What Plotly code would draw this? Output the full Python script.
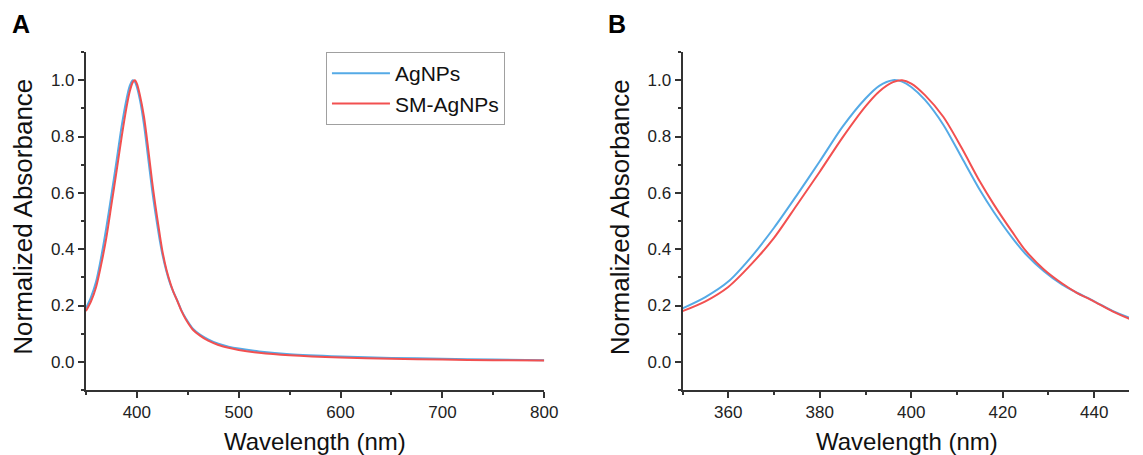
# UV-Vis spectra of AgNPs and SM-AgNPs: full range (A) and zoom on the peak (B)

import plotly.graph_objects as go

# Wavelength grid (nm)
wavelength = [350, 355, 360, 365, 370, 375, 380, 385, 390, 393, 396, 398, 400, 403,
              407, 411, 415, 418, 422, 425, 429, 433, 436, 440, 444, 448, 455, 462,
              470, 480, 490, 500, 520, 550, 600, 650, 700, 750, 800]

# Normalized absorbance, AgNPs
agnps = [0.190, 0.230, 0.285, 0.372, 0.476, 0.592, 0.712, 0.835, 0.935, 0.980, 1.000,
         0.995, 0.976, 0.930, 0.842, 0.726, 0.610, 0.533, 0.442, 0.383, 0.322, 0.274,
         0.247, 0.215, 0.181, 0.155, 0.118, 0.097, 0.080, 0.064, 0.054, 0.047, 0.037,
         0.027, 0.019, 0.014, 0.011, 0.008, 0.006]

# Normalized absorbance, SM-AgNPs
sm_agnps = [0.180, 0.215, 0.266, 0.346, 0.440, 0.557, 0.675, 0.797, 0.907, 0.960, 0.993,
            1.000, 0.988, 0.947, 0.870, 0.760, 0.640, 0.560, 0.463, 0.395, 0.328, 0.278,
            0.247, 0.214, 0.179, 0.151, 0.114, 0.093, 0.075, 0.060, 0.050, 0.042, 0.032,
            0.023, 0.015, 0.011, 0.008, 0.006, 0.005]

blue = "#55AAE6"
red = "#F25050"
font_family = "Arial, Liberation Sans, sans-serif"
axis_color = "#333333"

fig = go.Figure()

# Panel A
fig.add_trace(go.Scatter(x=wavelength, y=agnps, name="AgNPs", mode="lines",
                         line=dict(color=blue, width=2, shape="spline", smoothing=0.8),
                         xaxis="x", yaxis="y"))
fig.add_trace(go.Scatter(x=wavelength, y=sm_agnps, name="SM-AgNPs", mode="lines",
                         line=dict(color=red, width=2, shape="spline", smoothing=0.8),
                         xaxis="x", yaxis="y"))
# Panel B
fig.add_trace(go.Scatter(x=wavelength, y=agnps, name="AgNPs", mode="lines", showlegend=False,
                         line=dict(color=blue, width=2, shape="spline", smoothing=0.8),
                         xaxis="x2", yaxis="y2"))
fig.add_trace(go.Scatter(x=wavelength, y=sm_agnps, name="SM-AgNPs", mode="lines", showlegend=False,
                         line=dict(color=red, width=2, shape="spline", smoothing=0.8),
                         xaxis="x2", yaxis="y2"))

W, H = 1143, 455
PH = 338  # plot height in px

common_axis = dict(
    showline=True, linecolor=axis_color, linewidth=2,
    ticks="outside", ticklen=6, tickwidth=1.5, tickcolor=axis_color,
    showgrid=False, zeroline=False,
    tickfont=dict(size=17, color="#222222", family=font_family),
)

fig.update_layout(
    width=W, height=H,
    margin=dict(l=0, r=0, t=52, b=65),
    paper_bgcolor="white", plot_bgcolor="white",
    font=dict(family=font_family, color="#111111"),
    xaxis=dict(domain=[87 / W, 551 / W], range=[350, 800], dtick=100, tick0=0,
               minor=dict(dtick=50, ticklen=3, tickcolor=axis_color, ticks="outside"),
               anchor="y", **common_axis),
    yaxis=dict(domain=[0, 1], range=[-0.1, 1.1], dtick=0.2, tick0=0, tickformat=".1f",
               minor=dict(dtick=0.1, ticklen=3, tickcolor=axis_color, ticks="outside"),
               anchor="x", **common_axis),
    xaxis2=dict(domain=[691 / W, 1.0], range=[350, 447.6], dtick=20, tick0=0,
                minor=dict(dtick=10, ticklen=3, tickcolor=axis_color, ticks="outside"),
                anchor="y2", **common_axis),
    yaxis2=dict(domain=[0, 1], range=[-0.1, 1.1], dtick=0.2, tick0=0, tickformat=".1f",
                minor=dict(dtick=0.1, ticklen=3, tickcolor=axis_color, ticks="outside"),
                anchor="x2", **common_axis),
    legend=dict(x=330 / W, y=1.0, xanchor="left", yanchor="top",
                bordercolor="#A0A0A0", borderwidth=1, bgcolor="white",
                itemwidth=58, tracegroupgap=0,
                font=dict(size=21, color="#111111", family=font_family)),
    showlegend=True,
)

# Axis titles
for xc in (23, 628):
    fig.add_annotation(text="Normalized Absorbance", x=xc / W, y=1 - (217 - 52) / PH,
                       xref="paper", yref="paper", textangle=-90, showarrow=False,
                       xanchor="center", yanchor="middle",
                       font=dict(size=26, color="#111111", family=font_family))
for xc in (319, 918):
    fig.add_annotation(text="Wavelength (nm)", x=xc / W, y=-(442 - 390) / PH,
                       xref="paper", yref="paper", showarrow=False,
                       xanchor="center", yanchor="middle",
                       font=dict(size=24, color="#111111", family=font_family))

# Panel letters
for letter, xl in (("A", 10), ("B", 614)):
    fig.add_annotation(text="<b>" + letter + "</b>", x=xl / W, y=1 + (52 - 24) / PH,
                       xref="paper", yref="paper", showarrow=False,
                       xanchor="left", yanchor="middle",
                       font=dict(size=25, color="black", family=font_family))

fig.write_html("out.html", config={"displayModeBar": False},
               post_script="document.body.style.margin='0';document.body.style.overflow='hidden';")
